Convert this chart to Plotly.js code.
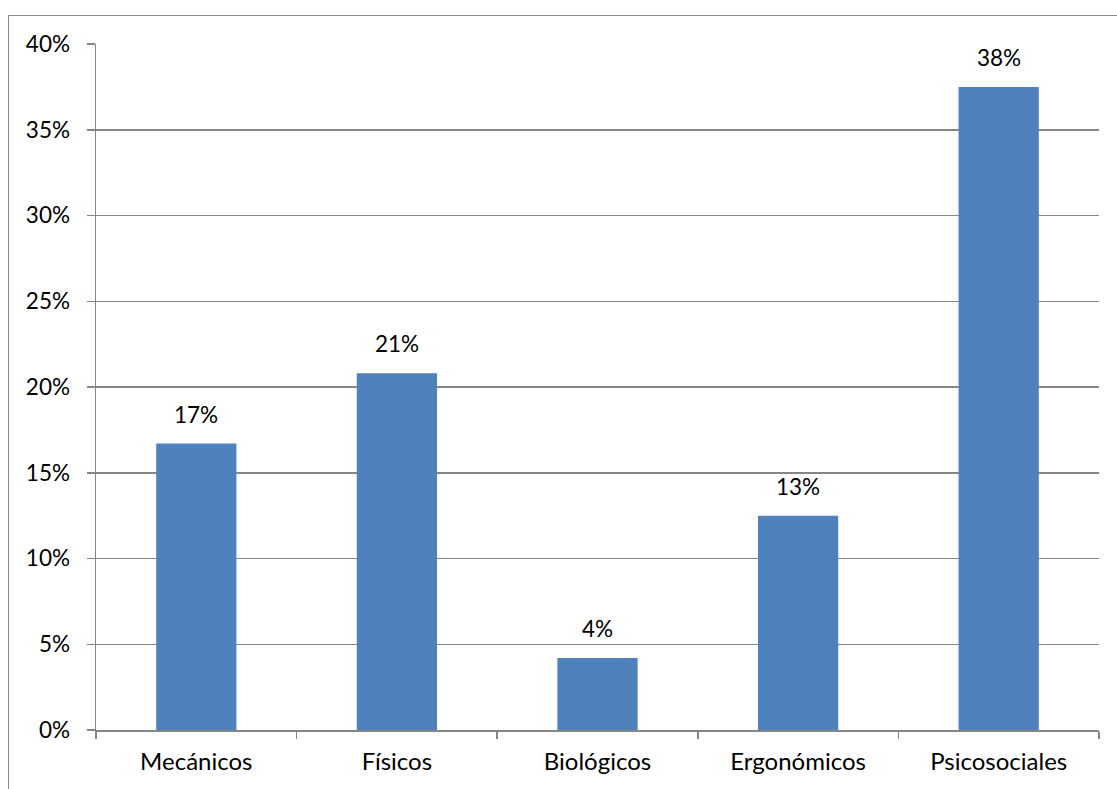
<!DOCTYPE html>
<html>
<head>
<meta charset="utf-8">
<script src="https://cdn.plot.ly/plotly-3.0.1.min.js"></script>
<style>
html,body{margin:0;padding:0;background:#fff;overflow:hidden;}
#frame{position:absolute;left:8px;top:15px;width:1200px;height:900px;border-left:1.5px solid #8a8a8a;border-top:1.5px solid #8a8a8a;pointer-events:none;}
#chart{position:absolute;left:0;top:0;width:1117px;height:789px;}
</style>
</head>
<body>
<div id="chart"></div>
<div id="frame"></div>
<script>
const categories = ["Mecánicos", "Físicos", "Biológicos", "Ergonómicos", "Psicosociales"];
const values = [0.167, 0.208, 0.042, 0.125, 0.375];
const valueLabels = ["17%", "21%", "4%", "13%", "38%"];
const yTickVals = [0, 0.05, 0.10, 0.15, 0.20, 0.25, 0.30, 0.35, 0.40];
const yTickText = ["0%", "5%", "10%", "15%", "20%", "25%", "30%", "35%", "40%"];

const font = {family: "Lato, 'Liberation Sans', sans-serif", size: 22.5, color: "#000"};
const xfont = {family: "Lato, 'Liberation Sans', sans-serif", size: 24, color: "#000"};

const trace = {
  type: "bar",
  x: categories,
  y: values,
  marker: {color: "#4F81BD"},
  hoverinfo: "none"
};

const annotations = categories.map((c, i) => ({
  x: c, y: values[i], xref: "x", yref: "y",
  text: valueLabels[i], showarrow: false,
  yanchor: "bottom", yshift: 14,
  font: font
}));

const layout = {
  width: 1117, height: 789,
  margin: {l: 96, r: 18, t: 44, b: 59},
  paper_bgcolor: "#fff", plot_bgcolor: "#fff",
  bargap: 0.6,
  showlegend: false,
  font: font,
  xaxis: {
    type: "category",
    showgrid: false,
    showline: true, linecolor: "#868686", linewidth: 1.5,
    ticks: "outside", tickson: "boundaries", ticklen: 7, tickcolor: "#868686", tickwidth: 1.5,
    tickfont: xfont,
    ticklabelstandoff: 10,
    zeroline: false
  },
  yaxis: {
    range: [0, 0.40],
    tickvals: yTickVals, ticktext: yTickText,
    showgrid: true, gridcolor: "#868686", gridwidth: 1.5,
    showline: true, linecolor: "#868686", linewidth: 1.5,
    ticks: "outside", ticklen: 8, tickcolor: "#868686", tickwidth: 1.5,
    tickfont: font,
    ticklabelstandoff: 12,
    zeroline: false
  },
  annotations: annotations
};

Plotly.newPlot("chart", [trace], layout, {displayModeBar: false, staticPlot: true});
</script>
</body>
</html>
